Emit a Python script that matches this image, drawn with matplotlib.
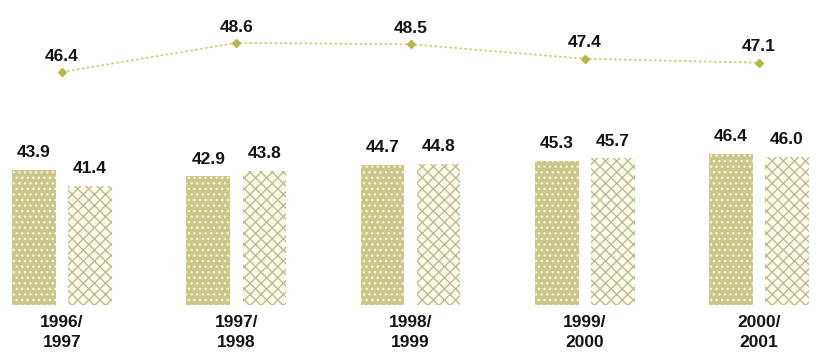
import matplotlib.pyplot as plt
import numpy as np

plt.rcParams['font.family'] = ['Liberation Sans', 'DejaVu Sans']

years = ['1996/\n1997', '1997/\n1998', '1998/\n1999', '1999/\n2000', '2000/\n2001']
bars_a = [43.9, 42.9, 44.7, 45.3, 46.4]
bars_b = [41.4, 43.8, 44.8, 45.7, 46.0]
line_vals = [46.4, 48.6, 48.5, 47.4, 47.1]

x = np.arange(len(years))
w = 0.25
off = 0.161
fs = 12.5
tc = '#151515'

fig = plt.figure(figsize=(8.16, 3.59), dpi=100)
ax = fig.add_axes([0, 0.1504, 1, 0.8496])
ax.set_xlim(-0.356, 4.327)
ax.set_ylim(22.8, 70.46)

ax.bar(x - off, bars_a, w, facecolor='#c9c692', edgecolor='#fbf8b0',
       hatch='...', linewidth=0)
ax.bar(x + off, bars_b, w, facecolor='#fdfcdc', edgecolor='#b9b9b2',
       hatch='xxx', linewidth=0)

for i in range(len(years)):
    ax.annotate(f'{bars_a[i]:.1f}', (x[i] - off, bars_a[i]), xytext=(0, 7),
                textcoords='offset points', ha='center', va='bottom',
                fontsize=fs, fontweight='bold', color=tc)
    ax.annotate(f'{bars_b[i]:.1f}', (x[i] + off, bars_b[i]), xytext=(0, 7),
                textcoords='offset points', ha='center', va='bottom',
                fontsize=fs, fontweight='bold', color=tc)
    ax.annotate(years[i], (x[i], 22.8), xytext=(0, -7),
                textcoords='offset points', ha='center', va='top',
                fontsize=fs, fontweight='bold', color=tc, linespacing=1.4)

ax2 = ax.twinx()
ax2.set_ylim(28.75, 51.85)
ax2.plot(x, line_vals, color='#d2cc6a', linestyle=(0, (1.5, 1.5)), linewidth=1.2,
         marker='D', markersize=4.5, markerfacecolor='#b8b848',
         markeredgecolor='#b8b848')
for i in range(len(years)):
    ax2.annotate(f'{line_vals[i]:.1f}', (x[i], line_vals[i]), xytext=(0, 6),
                 textcoords='offset points', ha='center', va='bottom',
                 fontsize=fs, fontweight='bold', color=tc)

for a in (ax, ax2):
    a.axis('off')

fig.savefig('out.png', dpi=100)
